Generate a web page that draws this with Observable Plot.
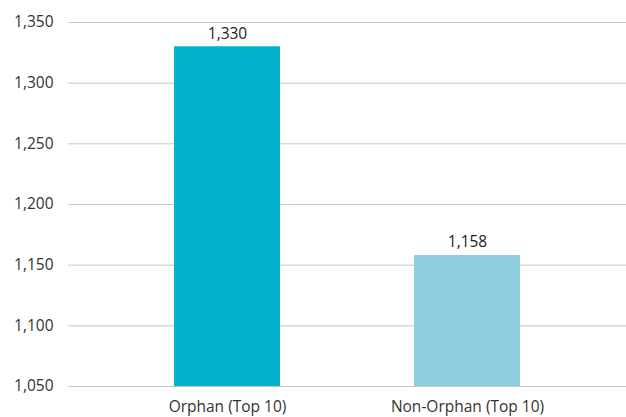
<!DOCTYPE html>
<html>
<head>
<meta charset="utf-8">
<script src="https://cdn.jsdelivr.net/npm/d3@7"></script>
<script src="https://cdn.jsdelivr.net/npm/@observablehq/plot@0.6"></script>
<style>
  html, body { margin: 0; padding: 0; background: #fff; }
  #chart svg { display: block; }
</style>
</head>
<body>
<div id="chart"></div>
<script>
const categories = ["Orphan (Top 10)", "Non-Orphan (Top 10)"];
const values = [1330, 1158];
const barColors = ["#03B3CD", "#8ECEE0"];
const yTicks = [1050, 1100, 1150, 1200, 1250, 1300, 1350];

const data = categories.map((c, i) => ({category: c, value: values[i], color: barColors[i]}));
const fmt = d3.format(",");

const chart = Plot.plot({
  width: 626,
  height: 417,
  marginLeft: 68,
  marginRight: 0,
  marginTop: 22,
  marginBottom: 31,
  style: {fontFamily: "'Open Sans', sans-serif", fontSize: "15.5px", color: "#333", background: "#fff"},
  x: {domain: categories, paddingInner: 0.56, paddingOuter: 0.44, label: null, tickSize: 0, tickPadding: 14},
  y: {domain: [1050, 1350], ticks: yTicks, tickFormat: fmt, label: null, tickSize: 0, tickPadding: 15},
  marks: [
    Plot.ruleY(yTicks, {stroke: "#c8c8c8", strokeWidth: 1}),
    Plot.barY(data, {x: "category", y1: 1050, y2: "value", fill: "color"}),
    Plot.text(data, {x: "category", y: "value", text: d => fmt(d.value), dy: -13, fill: "#222", fontSize: 15.5})
  ]
});
document.getElementById("chart").appendChild(chart);
</script>
</body>
</html>
